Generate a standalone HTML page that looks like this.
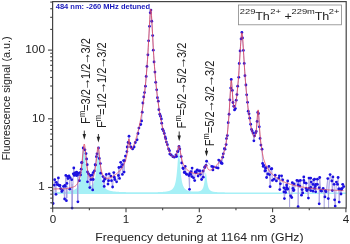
<!DOCTYPE html>
<html><head><meta charset="utf-8">
<style>
html,body{margin:0;padding:0;background:#fff;}
body{width:350px;height:244px;overflow:hidden;}
svg{display:block;font-family:"Liberation Sans",sans-serif;}
svg{will-change:transform;}
</style></head>
<body>
<svg width="350" height="244" viewBox="0 0 350 244">
<rect width="350" height="244" fill="#fff"/>
<!-- cyan isomer component -->
<path d="M52.7,194.1 L52.70,192.24 L52.90,192.24 L53.10,192.23 L53.30,192.23 L53.50,192.22 L53.70,192.22 L53.90,192.21 L54.10,192.21 L54.30,192.21 L54.50,192.20 L54.70,192.20 L54.90,192.19 L55.10,192.19 L55.30,192.18 L55.50,192.18 L55.70,192.17 L55.90,192.17 L56.10,192.16 L56.30,192.15 L56.50,192.15 L56.70,192.14 L56.90,192.14 L57.10,192.13 L57.30,192.12 L57.50,192.12 L57.70,192.11 L57.90,192.11 L58.10,192.10 L58.30,192.09 L58.50,192.09 L58.70,192.08 L58.90,192.07 L59.10,192.06 L59.30,192.06 L59.50,192.05 L59.70,192.04 L59.90,192.03 L60.10,192.02 L60.30,192.02 L60.50,192.01 L60.70,192.00 L60.90,191.99 L61.10,191.98 L61.30,191.97 L61.50,191.96 L61.70,191.95 L61.90,191.94 L62.10,191.93 L62.30,191.92 L62.50,191.91 L62.70,191.90 L62.90,191.88 L63.10,191.87 L63.30,191.86 L63.50,191.85 L63.70,191.83 L63.90,191.82 L64.10,191.81 L64.30,191.79 L64.50,191.78 L64.70,191.76 L64.90,191.75 L65.10,191.73 L65.30,191.71 L65.50,191.70 L65.70,191.68 L65.90,191.66 L66.10,191.64 L66.30,191.63 L66.50,191.61 L66.70,191.59 L66.90,191.57 L67.10,191.54 L67.30,191.52 L67.50,191.50 L67.70,191.47 L67.90,191.45 L68.10,191.42 L68.30,191.40 L68.50,191.37 L68.70,191.34 L68.90,191.31 L69.10,191.28 L69.30,191.25 L69.50,191.22 L69.70,191.19 L69.90,191.15 L70.10,191.11 L70.30,191.07 L70.50,191.04 L70.70,190.99 L70.90,190.95 L71.10,190.91 L71.30,190.86 L71.50,190.81 L71.70,190.76 L71.90,190.71 L72.10,190.65 L72.30,190.59 L72.50,190.53 L72.70,190.47 L72.90,190.40 L73.10,190.33 L73.30,190.25 L73.50,190.17 L73.70,190.09 L73.90,190.01 L74.10,189.91 L74.30,189.82 L74.50,189.71 L74.70,189.61 L74.90,189.49 L75.10,189.37 L75.30,189.24 L75.50,189.11 L75.70,188.96 L75.90,188.80 L76.10,188.64 L76.30,188.46 L76.50,188.27 L76.70,188.07 L76.90,187.86 L77.10,187.62 L77.30,187.37 L77.50,187.10 L77.70,186.81 L77.90,186.50 L78.10,186.15 L78.30,185.78 L78.50,185.38 L78.70,184.95 L78.90,184.47 L79.10,183.95 L79.30,183.37 L79.50,182.75 L79.70,182.06 L79.90,181.30 L80.10,180.47 L80.30,179.54 L80.50,178.52 L80.70,177.40 L80.90,176.15 L81.10,174.76 L81.30,173.23 L81.50,171.54 L81.70,169.68 L81.90,167.64 L82.10,165.43 L82.30,163.04 L82.50,160.52 L82.70,157.90 L82.90,155.27 L83.10,152.75 L83.30,150.50 L83.50,148.70 L83.70,147.52 L83.90,147.11 L84.10,147.51 L84.30,148.67 L84.50,150.46 L84.70,152.69 L84.90,155.19 L85.10,157.79 L85.30,160.38 L85.50,162.87 L85.70,165.22 L85.90,167.39 L86.10,169.39 L86.30,171.20 L86.50,172.83 L86.70,174.31 L86.90,175.63 L87.10,176.81 L87.30,177.87 L87.50,178.82 L87.70,179.67 L87.90,180.43 L88.10,181.10 L88.30,181.71 L88.50,182.24 L88.70,182.72 L88.90,183.15 L89.10,183.52 L89.30,183.85 L89.50,184.14 L89.70,184.39 L89.90,184.60 L90.10,184.78 L90.30,184.93 L90.50,185.05 L90.70,185.14 L90.90,185.20 L91.10,185.24 L91.30,185.25 L91.50,185.23 L91.70,185.18 L91.90,185.11 L92.10,185.00 L92.30,184.87 L92.50,184.70 L92.70,184.50 L92.90,184.26 L93.10,183.99 L93.30,183.67 L93.50,183.31 L93.70,182.89 L93.90,182.42 L94.10,181.89 L94.30,181.29 L94.50,180.61 L94.70,179.84 L94.90,178.99 L95.10,178.02 L95.30,176.94 L95.50,175.72 L95.70,174.36 L95.90,172.84 L96.10,171.16 L96.30,169.29 L96.50,167.24 L96.70,165.02 L96.90,162.66 L97.10,160.19 L97.30,157.69 L97.50,155.29 L97.70,153.14 L97.90,151.41 L98.10,150.29 L98.30,149.90 L98.50,150.30 L98.70,151.44 L98.90,153.19 L99.10,155.37 L99.30,157.79 L99.50,160.32 L99.70,162.82 L99.90,165.23 L100.10,167.49 L100.30,169.59 L100.50,171.51 L100.70,173.26 L100.90,174.84 L101.10,176.26 L101.30,177.55 L101.50,178.70 L101.70,179.75 L101.90,180.69 L102.10,181.53 L102.30,182.30 L102.50,182.99 L102.70,183.62 L102.90,184.19 L103.10,184.71 L103.30,185.19 L103.50,185.62 L103.70,186.02 L103.90,186.38 L104.10,186.72 L104.30,187.03 L104.50,187.31 L104.70,187.58 L104.90,187.82 L105.10,188.05 L105.30,188.26 L105.50,188.45 L105.70,188.64 L105.90,188.81 L106.10,188.96 L106.30,189.11 L106.50,189.25 L106.70,189.38 L106.90,189.51 L107.10,189.62 L107.30,189.73 L107.50,189.84 L107.70,189.93 L107.90,190.03 L108.10,190.11 L108.30,190.20 L108.50,190.27 L108.70,190.35 L108.90,190.42 L109.10,190.49 L109.30,190.55 L109.50,190.61 L109.70,190.67 L109.90,190.72 L110.10,190.78 L110.30,190.83 L110.50,190.87 L110.70,190.92 L110.90,190.97 L111.10,191.01 L111.30,191.05 L111.50,191.09 L111.70,191.12 L111.90,191.16 L112.10,191.19 L112.30,191.23 L112.50,191.26 L112.70,191.29 L112.90,191.32 L113.10,191.35 L113.30,191.38 L113.50,191.40 L113.70,191.43 L113.90,191.45 L114.10,191.48 L114.30,191.50 L114.50,191.52 L114.70,191.54 L114.90,191.56 L115.10,191.58 L115.30,191.60 L115.50,191.62 L115.70,191.64 L115.90,191.66 L116.10,191.67 L116.30,191.69 L116.50,191.71 L116.70,191.72 L116.90,191.74 L117.10,191.75 L117.30,191.77 L117.50,191.78 L117.70,191.79 L117.90,191.81 L118.10,191.82 L118.30,191.83 L118.50,191.84 L118.70,191.85 L118.90,191.87 L119.10,191.88 L119.30,191.89 L119.50,191.90 L119.70,191.91 L119.90,191.92 L120.10,191.93 L120.30,191.94 L120.50,191.95 L120.70,191.96 L120.90,191.96 L121.10,191.97 L121.30,191.98 L121.50,191.99 L121.70,192.00 L121.90,192.00 L122.10,192.01 L122.30,192.02 L122.50,192.03 L122.70,192.03 L122.90,192.04 L123.10,192.05 L123.30,192.05 L123.50,192.06 L123.70,192.07 L123.90,192.07 L124.10,192.08 L124.30,192.08 L124.50,192.09 L124.70,192.09 L124.90,192.10 L125.10,192.11 L125.30,192.11 L125.50,192.12 L125.70,192.12 L125.90,192.13 L126.10,192.13 L126.30,192.13 L126.50,192.14 L126.70,192.14 L126.90,192.15 L127.10,192.15 L127.30,192.16 L127.50,192.16 L127.70,192.16 L127.90,192.17 L128.10,192.17 L128.30,192.18 L128.50,192.18 L128.70,192.18 L128.90,192.19 L129.10,192.19 L129.30,192.19 L129.50,192.20 L129.70,192.20 L129.90,192.20 L130.10,192.20 L130.30,192.21 L130.50,192.21 L130.70,192.21 L130.90,192.22 L131.10,192.22 L131.30,192.22 L131.50,192.22 L131.70,192.23 L131.90,192.23 L132.10,192.23 L132.30,192.23 L132.50,192.24 L132.70,192.24 L132.90,192.24 L133.10,192.24 L133.30,192.24 L133.50,192.25 L133.70,192.25 L133.90,192.25 L134.10,192.25 L134.30,192.25 L134.50,192.26 L134.70,192.26 L134.90,192.26 L135.10,192.26 L135.30,192.26 L135.50,192.26 L135.70,192.27 L135.90,192.27 L136.10,192.27 L136.30,192.27 L136.50,192.27 L136.70,192.27 L136.90,192.27 L137.10,192.27 L137.30,192.28 L137.50,192.28 L137.70,192.28 L137.90,192.28 L138.10,192.28 L138.30,192.28 L138.50,192.28 L138.70,192.28 L138.90,192.28 L139.10,192.28 L139.30,192.28 L139.50,192.29 L139.70,192.29 L139.90,192.29 L140.10,192.29 L140.30,192.29 L140.50,192.29 L140.70,192.29 L140.90,192.29 L141.10,192.29 L141.30,192.29 L141.50,192.29 L141.70,192.29 L141.90,192.29 L142.10,192.29 L142.30,192.29 L142.50,192.29 L142.70,192.29 L142.90,192.29 L143.10,192.29 L143.30,192.29 L143.50,192.29 L143.70,192.29 L143.90,192.29 L144.10,192.29 L144.30,192.29 L144.50,192.29 L144.70,192.29 L144.90,192.29 L145.10,192.29 L145.30,192.29 L145.50,192.29 L145.70,192.29 L145.90,192.29 L146.10,192.29 L146.30,192.28 L146.50,192.28 L146.70,192.28 L146.90,192.28 L147.10,192.28 L147.30,192.28 L147.50,192.28 L147.70,192.28 L147.90,192.28 L148.10,192.28 L148.30,192.28 L148.50,192.27 L148.70,192.27 L148.90,192.27 L149.10,192.27 L149.30,192.27 L149.50,192.27 L149.70,192.27 L149.90,192.26 L150.10,192.26 L150.30,192.26 L150.50,192.26 L150.70,192.26 L150.90,192.25 L151.10,192.25 L151.30,192.25 L151.50,192.25 L151.70,192.25 L151.90,192.24 L152.10,192.24 L152.30,192.24 L152.50,192.24 L152.70,192.23 L152.90,192.23 L153.10,192.23 L153.30,192.22 L153.50,192.22 L153.70,192.22 L153.90,192.21 L154.10,192.21 L154.30,192.21 L154.50,192.20 L154.70,192.20 L154.90,192.20 L155.10,192.19 L155.30,192.19 L155.50,192.18 L155.70,192.18 L155.90,192.18 L156.10,192.17 L156.30,192.17 L156.50,192.16 L156.70,192.16 L156.90,192.15 L157.10,192.15 L157.30,192.14 L157.50,192.13 L157.70,192.13 L157.90,192.12 L158.10,192.12 L158.30,192.11 L158.50,192.10 L158.70,192.10 L158.90,192.09 L159.10,192.08 L159.30,192.07 L159.50,192.07 L159.70,192.06 L159.90,192.05 L160.10,192.04 L160.30,192.03 L160.50,192.02 L160.70,192.01 L160.90,192.00 L161.10,191.99 L161.30,191.98 L161.50,191.97 L161.70,191.96 L161.90,191.95 L162.10,191.93 L162.30,191.92 L162.50,191.91 L162.70,191.89 L162.90,191.88 L163.10,191.87 L163.30,191.85 L163.50,191.83 L163.70,191.82 L163.90,191.80 L164.10,191.78 L164.30,191.76 L164.50,191.74 L164.70,191.72 L164.90,191.70 L165.10,191.68 L165.30,191.66 L165.50,191.63 L165.70,191.61 L165.90,191.58 L166.10,191.55 L166.30,191.52 L166.50,191.49 L166.70,191.46 L166.90,191.42 L167.10,191.39 L167.30,191.35 L167.50,191.31 L167.70,191.27 L167.90,191.23 L168.10,191.18 L168.30,191.13 L168.50,191.08 L168.70,191.03 L168.90,190.97 L169.10,190.91 L169.30,190.85 L169.50,190.78 L169.70,190.71 L169.90,190.63 L170.10,190.55 L170.30,190.46 L170.50,190.37 L170.70,190.27 L170.90,190.16 L171.10,190.05 L171.30,189.93 L171.50,189.79 L171.70,189.65 L171.90,189.50 L172.10,189.33 L172.30,189.15 L172.50,188.96 L172.70,188.75 L172.90,188.52 L173.10,188.27 L173.30,187.99 L173.50,187.69 L173.70,187.36 L173.90,186.99 L174.10,186.59 L174.30,186.15 L174.50,185.65 L174.70,185.10 L174.90,184.49 L175.10,183.80 L175.30,183.04 L175.50,182.17 L175.70,181.20 L175.90,180.11 L176.10,178.87 L176.30,177.47 L176.50,175.89 L176.70,174.11 L176.90,172.10 L177.10,169.87 L177.30,167.40 L177.50,164.71 L177.70,161.86 L177.90,158.95 L178.10,156.13 L178.30,153.64 L178.50,151.74 L178.70,150.72 L178.90,150.72 L179.10,151.74 L179.30,153.63 L179.50,156.13 L179.70,158.94 L179.90,161.86 L180.10,164.71 L180.30,167.40 L180.50,169.86 L180.70,172.10 L180.90,174.10 L181.10,175.88 L181.30,177.46 L181.50,178.86 L181.70,180.09 L181.90,181.19 L182.10,182.16 L182.30,183.02 L182.50,183.79 L182.70,184.47 L182.90,185.08 L183.10,185.63 L183.30,186.12 L183.50,186.57 L183.70,186.97 L183.90,187.33 L184.10,187.66 L184.30,187.96 L184.50,188.23 L184.70,188.48 L184.90,188.71 L185.10,188.92 L185.30,189.11 L185.50,189.29 L185.70,189.45 L185.90,189.60 L186.10,189.74 L186.30,189.87 L186.50,189.99 L186.70,190.11 L186.90,190.21 L187.10,190.31 L187.30,190.40 L187.50,190.48 L187.70,190.56 L187.90,190.64 L188.10,190.70 L188.30,190.77 L188.50,190.83 L188.70,190.89 L188.90,190.94 L189.10,190.99 L189.30,191.04 L189.50,191.08 L189.70,191.13 L189.90,191.17 L190.10,191.20 L190.30,191.24 L190.50,191.27 L190.70,191.30 L190.90,191.33 L191.10,191.36 L191.30,191.38 L191.50,191.41 L191.70,191.43 L191.90,191.45 L192.10,191.47 L192.30,191.49 L192.50,191.50 L192.70,191.52 L192.90,191.53 L193.10,191.54 L193.30,191.56 L193.50,191.57 L193.70,191.58 L193.90,191.58 L194.10,191.59 L194.30,191.60 L194.50,191.60 L194.70,191.60 L194.90,191.61 L195.10,191.61 L195.30,191.61 L195.50,191.61 L195.70,191.60 L195.90,191.60 L196.10,191.59 L196.30,191.59 L196.50,191.58 L196.70,191.57 L196.90,191.55 L197.10,191.54 L197.30,191.52 L197.50,191.51 L197.70,191.48 L197.90,191.46 L198.10,191.44 L198.30,191.41 L198.50,191.38 L198.70,191.34 L198.90,191.30 L199.10,191.26 L199.30,191.21 L199.50,191.16 L199.70,191.10 L199.90,191.03 L200.10,190.96 L200.30,190.88 L200.50,190.79 L200.70,190.69 L200.90,190.58 L201.10,190.45 L201.30,190.31 L201.50,190.15 L201.70,189.97 L201.90,189.77 L202.10,189.54 L202.30,189.27 L202.50,188.96 L202.70,188.61 L202.90,188.20 L203.10,187.72 L203.30,187.16 L203.50,186.51 L203.70,185.75 L203.90,184.86 L204.10,183.81 L204.30,182.60 L204.50,181.20 L204.70,179.64 L204.90,177.95 L205.10,176.22 L205.30,174.62 L205.50,173.35 L205.70,172.65 L205.90,172.65 L206.10,173.36 L206.30,174.63 L206.50,176.24 L206.70,177.97 L206.90,179.66 L207.10,181.23 L207.30,182.63 L207.50,183.85 L207.70,184.91 L207.90,185.81 L208.10,186.58 L208.30,187.23 L208.50,187.80 L208.70,188.28 L208.90,188.70 L209.10,189.06 L209.30,189.37 L209.50,189.65 L209.70,189.89 L209.90,190.10 L210.10,190.29 L210.30,190.46 L210.50,190.61 L210.70,190.74 L210.90,190.86 L211.10,190.97 L211.30,191.07 L211.50,191.16 L211.70,191.24 L211.90,191.31 L212.10,191.38 L212.30,191.44 L212.50,191.50 L212.70,191.55 L212.90,191.60 L213.10,191.64 L213.30,191.68 L213.50,191.72 L213.70,191.76 L213.90,191.79 L214.10,191.82 L214.30,191.85 L214.50,191.88 L214.70,191.91 L214.90,191.93 L215.10,191.95 L215.30,191.97 L215.50,191.99 L215.70,192.01 L215.90,192.03 L216.10,192.05 L216.30,192.07 L216.50,192.08 L216.70,192.10 L216.90,192.11 L217.10,192.12 L217.30,192.14 L217.50,192.15 L217.70,192.16 L217.90,192.17 L218.10,192.18 L218.30,192.19 L218.50,192.20 L218.70,192.21 L218.90,192.22 L219.10,192.23 L219.30,192.23 L219.50,192.24 L219.70,192.25 L219.90,192.26 L220.10,192.26 L220.30,192.27 L220.50,192.28 L220.70,192.28 L220.90,192.29 L221.10,192.30 L221.30,192.30 L221.50,192.31 L221.70,192.31 L221.90,192.32 L222.10,192.32 L222.30,192.33 L222.50,192.33 L222.70,192.34 L222.90,192.34 L223.10,192.34 L223.30,192.35 L223.50,192.35 L223.70,192.36 L223.90,192.36 L224.10,192.36 L224.30,192.37 L224.50,192.37 L224.70,192.37 L224.90,192.38 L225.10,192.38 L225.30,192.38 L225.50,192.39 L225.70,192.39 L225.90,192.39 L226.10,192.40 L226.30,192.40 L226.50,192.40 L226.70,192.40 L226.90,192.41 L227.10,192.41 L227.30,192.41 L227.50,192.41 L227.70,192.42 L227.90,192.42 L228.10,192.42 L228.30,192.42 L228.50,192.42 L228.70,192.43 L228.90,192.43 L229.10,192.43 L229.30,192.43 L229.50,192.43 L229.70,192.44 L229.90,192.44 L230.10,192.44 L230.30,192.44 L230.50,192.44 L230.70,192.44 L230.90,192.45 L231.10,192.45 L231.30,192.45 L231.50,192.45 L231.70,192.45 L231.90,192.45 L232.10,192.45 L232.30,192.46 L232.50,192.46 L232.70,192.46 L232.90,192.46 L233.10,192.46 L233.30,192.46 L233.50,192.46 L233.70,192.47 L233.90,192.47 L234.10,192.47 L234.30,192.47 L234.50,192.47 L234.70,192.47 L234.90,192.47 L235.10,192.47 L235.30,192.47 L235.50,192.48 L235.70,192.48 L235.90,192.48 L236.10,192.48 L236.30,192.48 L236.50,192.48 L236.70,192.48 L236.90,192.48 L237.10,192.48 L237.30,192.48 L237.50,192.49 L237.70,192.49 L237.90,192.49 L238.10,192.49 L238.30,192.49 L238.50,192.49 L238.70,192.49 L238.90,192.49 L239.10,192.49 L239.30,192.49 L239.50,192.49 L239.70,192.50 L239.90,192.50 L240.10,192.50 L240.30,192.50 L240.50,192.50 L240.70,192.50 L240.90,192.50 L241.10,192.50 L241.30,192.50 L241.50,192.50 L241.70,192.50 L241.90,192.50 L242.10,192.50 L242.30,192.50 L242.50,192.51 L242.70,192.51 L242.90,192.51 L243.10,192.51 L243.30,192.51 L243.50,192.51 L243.70,192.51 L243.90,192.51 L244.10,192.51 L244.30,192.51 L244.50,192.51 L244.70,192.51 L244.90,192.51 L245.10,192.51 L245.30,192.51 L245.50,192.51 L245.70,192.51 L245.90,192.51 L246.10,192.52 L246.30,192.52 L246.50,192.52 L246.70,192.52 L246.90,192.52 L247.10,192.52 L247.30,192.52 L247.50,192.52 L247.70,192.52 L247.90,192.52 L248.10,192.52 L248.30,192.52 L248.50,192.52 L248.70,192.52 L248.90,192.52 L249.10,192.52 L249.30,192.52 L249.50,192.52 L249.70,192.52 L249.90,192.52 L250.10,192.52 L250.30,192.53 L250.50,192.53 L250.70,192.53 L250.90,192.53 L251.10,192.53 L251.30,192.53 L251.50,192.53 L251.70,192.53 L251.90,192.53 L252.10,192.53 L252.30,192.53 L252.50,192.53 L252.70,192.53 L252.90,192.53 L253.10,192.53 L253.30,192.53 L253.50,192.53 L253.70,192.53 L253.90,192.53 L254.10,192.53 L254.30,192.53 L254.50,192.53 L254.70,192.53 L254.90,192.53 L255.10,192.53 L255.30,192.53 L255.50,192.53 L255.70,192.54 L255.90,192.54 L256.10,192.54 L256.30,192.54 L256.50,192.54 L256.70,192.54 L256.90,192.54 L257.10,192.54 L257.30,192.54 L257.50,192.54 L257.70,192.54 L257.90,192.54 L258.10,192.54 L258.30,192.54 L258.50,192.54 L258.70,192.54 L258.90,192.54 L259.10,192.54 L259.30,192.54 L259.50,192.54 L259.70,192.54 L259.90,192.54 L260.10,192.54 L260.30,192.54 L260.50,192.54 L260.70,192.54 L260.90,192.54 L261.10,192.54 L261.30,192.54 L261.50,192.54 L261.70,192.54 L261.90,192.54 L262.10,192.54 L262.30,192.54 L262.50,192.54 L262.70,192.54 L262.90,192.54 L263.10,192.55 L263.30,192.55 L263.50,192.55 L263.70,192.55 L263.90,192.55 L264.10,192.55 L264.30,192.55 L264.50,192.55 L264.70,192.55 L264.90,192.55 L265.10,192.55 L265.30,192.55 L265.50,192.55 L265.70,192.55 L265.90,192.55 L266.10,192.55 L266.30,192.55 L266.50,192.55 L266.70,192.55 L266.90,192.55 L267.10,192.55 L267.30,192.55 L267.50,192.55 L267.70,192.55 L267.90,192.55 L268.10,192.55 L268.30,192.55 L268.50,192.55 L268.70,192.55 L268.90,192.55 L269.10,192.55 L269.30,192.55 L269.50,192.55 L269.70,192.55 L269.90,192.55 L270.10,192.55 L270.30,192.55 L270.50,192.55 L270.70,192.55 L270.90,192.55 L271.10,192.55 L271.30,192.55 L271.50,192.55 L271.70,192.55 L271.90,192.55 L272.10,192.55 L272.30,192.55 L272.50,192.55 L272.70,192.55 L272.90,192.55 L273.10,192.55 L273.30,192.56 L273.50,192.56 L273.70,192.56 L273.90,192.56 L274.10,192.56 L274.30,192.56 L274.50,192.56 L274.70,192.56 L274.90,192.56 L275.10,192.56 L275.30,192.56 L275.50,192.56 L275.70,192.56 L275.90,192.56 L276.10,192.56 L276.30,192.56 L276.50,192.56 L276.70,192.56 L276.90,192.56 L277.10,192.56 L277.30,192.56 L277.50,192.56 L277.70,192.56 L277.90,192.56 L278.10,192.56 L278.30,192.56 L278.50,192.56 L278.70,192.56 L278.90,192.56 L279.10,192.56 L279.30,192.56 L279.50,192.56 L279.70,192.56 L279.90,192.56 L280.10,192.56 L280.30,192.56 L280.50,192.56 L280.70,192.56 L280.90,192.56 L281.10,192.56 L281.30,192.56 L281.50,192.56 L281.70,192.56 L281.90,192.56 L282.10,192.56 L282.30,192.56 L282.50,192.56 L282.70,192.56 L282.90,192.56 L283.10,192.56 L283.30,192.56 L283.50,192.56 L283.70,192.56 L283.90,192.56 L284.10,192.56 L284.30,192.56 L284.50,192.56 L284.70,192.56 L284.90,192.56 L285.10,192.56 L285.30,192.56 L285.50,192.56 L285.70,192.56 L285.90,192.56 L286.10,192.56 L286.30,192.56 L286.50,192.56 L286.70,192.56 L286.90,192.56 L287.10,192.56 L287.30,192.56 L287.50,192.56 L287.70,192.56 L287.90,192.56 L288.10,192.56 L288.30,192.56 L288.50,192.56 L288.70,192.56 L288.90,192.56 L289.10,192.57 L289.30,192.57 L289.50,192.57 L289.70,192.57 L289.90,192.57 L290.10,192.57 L290.30,192.57 L290.50,192.57 L290.70,192.57 L290.90,192.57 L291.10,192.57 L291.30,192.57 L291.50,192.57 L291.70,192.57 L291.90,192.57 L292.10,192.57 L292.30,192.57 L292.50,192.57 L292.70,192.57 L292.90,192.57 L293.10,192.57 L293.30,192.57 L293.50,192.57 L293.70,192.57 L293.90,192.57 L294.10,192.57 L294.30,192.57 L294.50,192.57 L294.70,192.57 L294.90,192.57 L295.10,192.57 L295.30,192.57 L295.50,192.57 L295.70,192.57 L295.90,192.57 L296.10,192.57 L296.30,192.57 L296.50,192.57 L296.70,192.57 L296.90,192.57 L297.10,192.57 L297.30,192.57 L297.50,192.57 L297.70,192.57 L297.90,192.57 L298.10,192.57 L298.30,192.57 L298.50,192.57 L298.70,192.57 L298.90,192.57 L299.10,192.57 L299.30,192.57 L299.50,192.57 L299.70,192.57 L299.90,192.57 L300.10,192.57 L300.30,192.57 L300.50,192.57 L300.70,192.57 L300.90,192.57 L301.10,192.57 L301.30,192.57 L301.50,192.57 L301.70,192.57 L301.90,192.57 L302.10,192.57 L302.30,192.57 L302.50,192.57 L302.70,192.57 L302.90,192.57 L303.10,192.57 L303.30,192.57 L303.50,192.57 L303.70,192.57 L303.90,192.57 L304.10,192.57 L304.30,192.57 L304.50,192.57 L304.70,192.57 L304.90,192.57 L305.10,192.57 L305.30,192.57 L305.50,192.57 L305.70,192.57 L305.90,192.57 L306.10,192.57 L306.30,192.57 L306.50,192.57 L306.70,192.57 L306.90,192.57 L307.10,192.57 L307.30,192.57 L307.50,192.57 L307.70,192.57 L307.90,192.57 L308.10,192.57 L308.30,192.57 L308.50,192.57 L308.70,192.57 L308.90,192.57 L309.10,192.57 L309.30,192.57 L309.50,192.57 L309.70,192.57 L309.90,192.57 L310.10,192.57 L310.30,192.57 L310.50,192.57 L310.70,192.57 L310.90,192.57 L311.10,192.57 L311.30,192.57 L311.50,192.57 L311.70,192.57 L311.90,192.57 L312.10,192.57 L312.30,192.57 L312.50,192.57 L312.70,192.57 L312.90,192.57 L313.10,192.57 L313.30,192.57 L313.50,192.57 L313.70,192.57 L313.90,192.57 L314.10,192.57 L314.30,192.57 L314.50,192.57 L314.70,192.57 L314.90,192.57 L315.10,192.57 L315.30,192.57 L315.50,192.57 L315.70,192.57 L315.90,192.57 L316.10,192.57 L316.30,192.57 L316.50,192.57 L316.70,192.58 L316.90,192.58 L317.10,192.58 L317.30,192.58 L317.50,192.58 L317.70,192.58 L317.90,192.58 L318.10,192.58 L318.30,192.58 L318.50,192.58 L318.70,192.58 L318.90,192.58 L319.10,192.58 L319.30,192.58 L319.50,192.58 L319.70,192.58 L319.90,192.58 L320.10,192.58 L320.30,192.58 L320.50,192.58 L320.70,192.58 L320.90,192.58 L321.10,192.58 L321.30,192.58 L321.50,192.58 L321.70,192.58 L321.90,192.58 L322.10,192.58 L322.30,192.58 L322.50,192.58 L322.70,192.58 L322.90,192.58 L323.10,192.58 L323.30,192.58 L323.50,192.58 L323.70,192.58 L323.90,192.58 L324.10,192.58 L324.30,192.58 L324.50,192.58 L324.70,192.58 L324.90,192.58 L325.10,192.58 L325.30,192.58 L325.50,192.58 L325.70,192.58 L325.90,192.58 L326.10,192.58 L326.30,192.58 L326.50,192.58 L326.70,192.58 L326.90,192.58 L327.10,192.58 L327.30,192.58 L327.50,192.58 L327.70,192.58 L327.90,192.58 L328.10,192.58 L328.30,192.58 L328.50,192.58 L328.70,192.58 L328.90,192.58 L329.10,192.58 L329.30,192.58 L329.50,192.58 L329.70,192.58 L329.90,192.58 L330.10,192.58 L330.30,192.58 L330.50,192.58 L330.70,192.58 L330.90,192.58 L331.10,192.58 L331.30,192.58 L331.50,192.58 L331.70,192.58 L331.90,192.58 L332.10,192.58 L332.30,192.58 L332.50,192.58 L332.70,192.58 L332.90,192.58 L333.10,192.58 L333.30,192.58 L333.50,192.58 L333.70,192.58 L333.90,192.58 L334.10,192.58 L334.30,192.58 L334.50,192.58 L334.70,192.58 L334.90,192.58 L335.10,192.58 L335.30,192.58 L335.50,192.58 L335.70,192.58 L335.90,192.58 L336.10,192.58 L336.30,192.58 L336.50,192.58 L336.70,192.58 L336.90,192.58 L337.10,192.58 L337.30,192.58 L337.50,192.58 L337.70,192.58 L337.90,192.58 L338.10,192.58 L338.30,192.58 L338.50,192.58 L338.70,192.58 L338.90,192.58 L339.10,192.58 L339.30,192.58 L339.50,192.58 L339.70,192.58 L339.90,192.58 L340.10,192.58 L340.30,192.58 L340.50,192.58 L340.70,192.58 L340.90,192.58 L341.10,192.58 L341.30,192.58 L341.50,192.58 L341.70,192.58 L341.90,192.58 L342.10,192.58 L342.30,192.58 L342.50,192.58 L342.70,192.58 L342.90,192.58 L343.10,192.58 L343.30,192.58 L343.50,192.58 L343.70,192.58 L343.90,192.58 L344.10,192.58 L344.30,192.58 L344.50,192.58 L344.70,192.58 L344.90,192.58 L345.10,192.58 L345.30,192.58 L345.50,192.58 L345.70,192.58 L345.90,192.58 L346,194.1 Z" fill="#a6f0f6" stroke="none"/>
<!-- data connecting lines -->
<polyline points="53.10,203.50 54.30,185.10 54.70,179.70 56.00,194.30 56.30,182.30 57.20,184.60 58.40,177.90 58.40,185.00 59.50,185.70 60.00,185.50 60.60,188.60 61.80,191.50 62.30,190.30 63.50,186.30 64.60,199.00 64.80,185.50 65.20,186.30 65.80,175.40 66.40,200.70 66.90,183.40 67.40,176.50 68.00,178.60 69.00,176.00 69.80,189.20 70.10,177.60 71.70,179.70 72.10,208.10 73.30,173.80 73.80,168.00 74.30,175.40 74.90,172.80 75.90,174.90 76.50,172.20 76.60,175.50 77.10,172.60 77.50,174.90 77.90,201.80 78.10,173.30 79.40,180.70 80.00,172.60 80.60,174.90 81.20,169.20 81.60,162.70 82.00,162.40 83.20,148.00 84.90,149.80 86.00,153.60 86.60,159.00 87.20,164.70 87.50,172.00 87.50,181.80 88.60,173.80 89.80,187.60 90.40,175.50 91.00,179.50 92.10,174.90 92.70,189.90 93.20,172.60 93.20,179.50 94.40,170.90 95.20,164.70 95.50,165.10 96.40,156.70 97.00,153.80 98.50,148.00 99.30,158.40 100.40,163.60 100.70,173.20 103.00,176.60 103.60,181.20 104.20,186.40 104.70,178.90 105.10,179.00 106.30,174.40 108.00,184.10 108.60,180.70 109.20,173.80 110.90,176.10 111.50,180.70 112.60,187.00 113.80,172.60 114.30,177.20 114.90,179.50 116.60,181.80 118.40,175.50 118.90,167.50 119.50,178.40 120.70,162.30 121.20,166.90 122.40,164.60 122.40,174.40 123.60,160.60 124.10,172.10 124.70,160.60 125.40,156.10 126.90,151.60 127.20,147.00 128.10,142.50 129.00,136.20 129.90,143.40 130.80,147.00 132.60,148.90 134.10,147.00 135.30,142.50 137.10,139.80 138.00,133.50 138.90,128.10 140.70,124.50 141.60,120.90 142.23,112.20 142.89,103.01 143.76,96.91 144.53,92.56 145.45,86.15 146.21,76.47 146.96,66.46 147.89,54.78 148.59,40.81 149.52,26.34 150.25,12.74 150.92,10.04 151.75,21.23 152.66,35.62 153.30,50.15 154.06,61.97 154.94,72.05 155.70,82.33 156.67,89.86 157.43,97.75 158.29,101.22 158.86,109.68 159.80,114.24 160.54,116.16 161.38,118.95 161.70,123.20 162.60,129.20 163.50,130.90 164.30,133.50 165.20,136.90 165.70,138.70 166.40,142.10 167.40,144.70 168.60,149.00 169.50,150.70 169.80,154.10 171.20,155.00 172.90,156.70 174.30,157.20 176.00,155.00 176.60,156.60 177.70,151.40 177.80,151.60 179.00,146.40 179.80,149.00 181.20,156.60 181.70,162.90 182.90,168.10 183.20,168.60 184.30,172.60 184.60,172.10 185.20,166.40 186.30,173.90 186.60,174.30 188.90,175.50 189.50,189.30 189.80,173.30 190.60,174.30 190.90,171.60 191.80,176.60 192.10,168.10 193.50,177.80 194.70,180.60 195.20,172.00 196.10,172.70 197.00,170.30 197.30,169.80 198.10,176.00 199.30,170.90 200.10,171.00 200.40,174.30 201.60,179.50 203.10,171.00 203.30,177.20 204.70,167.50 204.90,167.00 206.00,165.30 206.60,161.20 211.80,166.40 212.90,169.90 213.50,167.00 216.40,167.60 218.10,168.10 218.70,160.10 220.40,161.20 221.00,163.00 222.10,163.50 222.70,157.20 223.30,153.80 224.40,148.60 225.00,149.20 226.10,144.60 226.46,138.60 227.32,135.57 228.21,122.70 229.08,114.24 229.84,99.97 230.69,88.08 231.26,79.48 232.35,90.46 232.96,102.49 233.80,106.26 234.52,109.90 235.42,108.60 236.24,100.20 236.94,94.57 237.68,86.22 238.74,77.33 239.27,63.52 240.09,50.92 241.09,38.95 241.88,32.46 242.52,37.93 243.40,50.38 244.23,63.44 244.96,75.70 245.89,85.00 246.65,94.84 247.54,102.36 248.21,111.26 249.04,113.86 249.74,118.14 250.67,124.27 251.51,129.44 252.22,131.08 253.02,133.06 253.89,140.85 254.60,135.83 255.51,132.94 256.24,131.42 257.11,121.45 257.77,112.50 258.49,113.55 259.30,126.79 260.06,138.45 260.90,145.10 262.00,149.20 262.60,163.50 263.20,166.40 263.70,165.30 264.90,171.00 265.50,168.10 265.50,170.60 266.00,167.70 266.60,177.50 267.80,174.00 268.90,166.40 269.50,174.60 270.10,186.70 271.20,168.90 271.80,168.70 272.40,180.40 274.10,179.20 275.20,175.20 276.40,180.90 278.70,178.10 279.30,175.80 279.80,189.60 280.40,183.80 281.60,175.80 282.70,179.80 283.90,187.80 283.90,191.90 284.40,198.60 285.60,189.60 285.60,192.40 286.60,185.00 286.70,187.30 287.10,188.90 287.70,181.00 287.70,189.00 290.60,195.80 291.70,197.50 292.30,182.70 292.90,188.40 293.50,190.60 294.00,183.80 294.00,190.10 296.90,180.40 298.10,185.00 298.10,206.70 298.60,181.00 299.80,186.10 300.40,180.40 301.50,195.20 302.10,189.60 302.70,192.90 303.80,176.90 303.80,180.40 304.40,182.70 306.10,183.20 306.10,188.40 306.70,190.60 307.30,190.10 308.40,198.10 309.00,178.10 309.00,188.40 310.70,178.10 310.70,187.30 310.70,190.60 311.30,182.10 313.00,184.40 313.00,191.20 313.60,179.80 314.60,179.20 314.70,188.40 315.30,186.10 315.70,184.30 315.70,191.80 317.40,179.20 317.40,184.30 319.20,187.80 319.20,203.80 319.70,177.50 320.90,190.70 321.50,191.20 323.20,188.40 324.90,196.90 325.50,190.70 326.00,191.70 327.80,178.60 328.30,198.60 330.10,174.60 331.80,180.90 332.30,190.60 332.90,176.90 334.10,184.30 334.60,199.80 335.20,206.10 336.40,182.10 337.50,184.30 338.10,177.50 338.70,188.90 339.20,202.10 339.80,188.90 341.00,194.00 341.50,189.50 342.10,188.30 342.70,184.30 343.80,186.60" fill="none" stroke="#aaa2e4" stroke-width="0.9"/>
<g stroke="#9c96dc" stroke-width="0.9"><line x1="289.6" y1="186" x2="289.6" y2="207"/><line x1="324.2" y1="190" x2="324.2" y2="209"/><line x1="328.6" y1="190" x2="328.6" y2="208"/><line x1="72.1" y1="184" x2="72.1" y2="208.1"/><line x1="67" y1="186" x2="67" y2="198"/><line x1="77.5" y1="184" x2="77.5" y2="200"/></g>
<!-- data dots -->
<g fill="#1c10e0"><circle cx="53.10" cy="203.50" r="1.4"/><circle cx="54.30" cy="185.10" r="1.4"/><circle cx="54.70" cy="179.70" r="1.4"/><circle cx="56.00" cy="194.30" r="1.4"/><circle cx="56.30" cy="182.30" r="1.4"/><circle cx="57.20" cy="184.60" r="1.4"/><circle cx="58.40" cy="177.90" r="1.4"/><circle cx="58.40" cy="185.00" r="1.4"/><circle cx="59.50" cy="185.70" r="1.4"/><circle cx="60.00" cy="185.50" r="1.4"/><circle cx="60.60" cy="188.60" r="1.4"/><circle cx="61.80" cy="191.50" r="1.4"/><circle cx="62.30" cy="190.30" r="1.4"/><circle cx="63.50" cy="186.30" r="1.4"/><circle cx="64.60" cy="199.00" r="1.4"/><circle cx="64.80" cy="185.50" r="1.4"/><circle cx="65.20" cy="186.30" r="1.4"/><circle cx="65.80" cy="175.40" r="1.4"/><circle cx="66.40" cy="200.70" r="1.4"/><circle cx="66.90" cy="183.40" r="1.4"/><circle cx="67.40" cy="176.50" r="1.4"/><circle cx="68.00" cy="178.60" r="1.4"/><circle cx="69.00" cy="176.00" r="1.4"/><circle cx="69.80" cy="189.20" r="1.4"/><circle cx="70.10" cy="177.60" r="1.4"/><circle cx="71.70" cy="179.70" r="1.4"/><circle cx="72.10" cy="208.10" r="1.4"/><circle cx="73.30" cy="173.80" r="1.4"/><circle cx="73.80" cy="168.00" r="1.4"/><circle cx="74.30" cy="175.40" r="1.4"/><circle cx="74.90" cy="172.80" r="1.4"/><circle cx="75.90" cy="174.90" r="1.4"/><circle cx="76.50" cy="172.20" r="1.4"/><circle cx="76.60" cy="175.50" r="1.4"/><circle cx="77.10" cy="172.60" r="1.4"/><circle cx="77.50" cy="174.90" r="1.4"/><circle cx="77.90" cy="201.80" r="1.4"/><circle cx="78.10" cy="173.30" r="1.4"/><circle cx="79.40" cy="180.70" r="1.4"/><circle cx="80.00" cy="172.60" r="1.4"/><circle cx="80.60" cy="174.90" r="1.4"/><circle cx="81.20" cy="169.20" r="1.4"/><circle cx="81.60" cy="162.70" r="1.4"/><circle cx="82.00" cy="162.40" r="1.4"/><circle cx="83.20" cy="148.00" r="1.4"/><circle cx="84.90" cy="149.80" r="1.4"/><circle cx="86.00" cy="153.60" r="1.4"/><circle cx="86.60" cy="159.00" r="1.4"/><circle cx="87.20" cy="164.70" r="1.4"/><circle cx="87.50" cy="172.00" r="1.4"/><circle cx="87.50" cy="181.80" r="1.4"/><circle cx="88.60" cy="173.80" r="1.4"/><circle cx="89.80" cy="187.60" r="1.4"/><circle cx="90.40" cy="175.50" r="1.4"/><circle cx="91.00" cy="179.50" r="1.4"/><circle cx="92.10" cy="174.90" r="1.4"/><circle cx="92.70" cy="189.90" r="1.4"/><circle cx="93.20" cy="172.60" r="1.4"/><circle cx="93.20" cy="179.50" r="1.4"/><circle cx="94.40" cy="170.90" r="1.4"/><circle cx="95.20" cy="164.70" r="1.4"/><circle cx="95.50" cy="165.10" r="1.4"/><circle cx="96.40" cy="156.70" r="1.4"/><circle cx="97.00" cy="153.80" r="1.4"/><circle cx="98.50" cy="148.00" r="1.4"/><circle cx="99.30" cy="158.40" r="1.4"/><circle cx="100.40" cy="163.60" r="1.4"/><circle cx="100.70" cy="173.20" r="1.4"/><circle cx="103.00" cy="176.60" r="1.4"/><circle cx="103.60" cy="181.20" r="1.4"/><circle cx="104.20" cy="186.40" r="1.4"/><circle cx="104.70" cy="178.90" r="1.4"/><circle cx="105.10" cy="179.00" r="1.4"/><circle cx="106.30" cy="174.40" r="1.4"/><circle cx="108.00" cy="184.10" r="1.4"/><circle cx="108.60" cy="180.70" r="1.4"/><circle cx="109.20" cy="173.80" r="1.4"/><circle cx="110.90" cy="176.10" r="1.4"/><circle cx="111.50" cy="180.70" r="1.4"/><circle cx="112.60" cy="187.00" r="1.4"/><circle cx="113.80" cy="172.60" r="1.4"/><circle cx="114.30" cy="177.20" r="1.4"/><circle cx="114.90" cy="179.50" r="1.4"/><circle cx="116.60" cy="181.80" r="1.4"/><circle cx="118.40" cy="175.50" r="1.4"/><circle cx="118.90" cy="167.50" r="1.4"/><circle cx="119.50" cy="178.40" r="1.4"/><circle cx="120.70" cy="162.30" r="1.4"/><circle cx="121.20" cy="166.90" r="1.4"/><circle cx="122.40" cy="164.60" r="1.4"/><circle cx="122.40" cy="174.40" r="1.4"/><circle cx="123.60" cy="160.60" r="1.4"/><circle cx="124.10" cy="172.10" r="1.4"/><circle cx="124.70" cy="160.60" r="1.4"/><circle cx="125.40" cy="156.10" r="1.4"/><circle cx="126.90" cy="151.60" r="1.4"/><circle cx="127.20" cy="147.00" r="1.4"/><circle cx="128.10" cy="142.50" r="1.4"/><circle cx="129.00" cy="136.20" r="1.4"/><circle cx="129.90" cy="143.40" r="1.4"/><circle cx="130.80" cy="147.00" r="1.4"/><circle cx="132.60" cy="148.90" r="1.4"/><circle cx="134.10" cy="147.00" r="1.4"/><circle cx="135.30" cy="142.50" r="1.4"/><circle cx="137.10" cy="139.80" r="1.4"/><circle cx="138.00" cy="133.50" r="1.4"/><circle cx="138.90" cy="128.10" r="1.4"/><circle cx="140.70" cy="124.50" r="1.4"/><circle cx="141.60" cy="120.90" r="1.4"/><circle cx="142.23" cy="112.20" r="1.4"/><circle cx="142.89" cy="103.01" r="1.4"/><circle cx="143.76" cy="96.91" r="1.4"/><circle cx="144.53" cy="92.56" r="1.4"/><circle cx="145.45" cy="86.15" r="1.4"/><circle cx="146.21" cy="76.47" r="1.4"/><circle cx="146.96" cy="66.46" r="1.4"/><circle cx="147.89" cy="54.78" r="1.4"/><circle cx="148.59" cy="40.81" r="1.4"/><circle cx="149.52" cy="26.34" r="1.4"/><circle cx="150.25" cy="12.74" r="1.4"/><circle cx="150.92" cy="10.04" r="1.4"/><circle cx="151.75" cy="21.23" r="1.4"/><circle cx="152.66" cy="35.62" r="1.4"/><circle cx="153.30" cy="50.15" r="1.4"/><circle cx="154.06" cy="61.97" r="1.4"/><circle cx="154.94" cy="72.05" r="1.4"/><circle cx="155.70" cy="82.33" r="1.4"/><circle cx="156.67" cy="89.86" r="1.4"/><circle cx="157.43" cy="97.75" r="1.4"/><circle cx="158.29" cy="101.22" r="1.4"/><circle cx="158.86" cy="109.68" r="1.4"/><circle cx="159.80" cy="114.24" r="1.4"/><circle cx="160.54" cy="116.16" r="1.4"/><circle cx="161.38" cy="118.95" r="1.4"/><circle cx="161.70" cy="123.20" r="1.4"/><circle cx="162.60" cy="129.20" r="1.4"/><circle cx="163.50" cy="130.90" r="1.4"/><circle cx="164.30" cy="133.50" r="1.4"/><circle cx="165.20" cy="136.90" r="1.4"/><circle cx="165.70" cy="138.70" r="1.4"/><circle cx="166.40" cy="142.10" r="1.4"/><circle cx="167.40" cy="144.70" r="1.4"/><circle cx="168.60" cy="149.00" r="1.4"/><circle cx="169.50" cy="150.70" r="1.4"/><circle cx="169.80" cy="154.10" r="1.4"/><circle cx="171.20" cy="155.00" r="1.4"/><circle cx="172.90" cy="156.70" r="1.4"/><circle cx="174.30" cy="157.20" r="1.4"/><circle cx="176.00" cy="155.00" r="1.4"/><circle cx="176.60" cy="156.60" r="1.4"/><circle cx="177.70" cy="151.40" r="1.4"/><circle cx="177.80" cy="151.60" r="1.4"/><circle cx="179.00" cy="146.40" r="1.4"/><circle cx="179.80" cy="149.00" r="1.4"/><circle cx="181.20" cy="156.60" r="1.4"/><circle cx="181.70" cy="162.90" r="1.4"/><circle cx="182.90" cy="168.10" r="1.4"/><circle cx="183.20" cy="168.60" r="1.4"/><circle cx="184.30" cy="172.60" r="1.4"/><circle cx="184.60" cy="172.10" r="1.4"/><circle cx="185.20" cy="166.40" r="1.4"/><circle cx="186.30" cy="173.90" r="1.4"/><circle cx="186.60" cy="174.30" r="1.4"/><circle cx="188.90" cy="175.50" r="1.4"/><circle cx="189.50" cy="189.30" r="1.4"/><circle cx="189.80" cy="173.30" r="1.4"/><circle cx="190.60" cy="174.30" r="1.4"/><circle cx="190.90" cy="171.60" r="1.4"/><circle cx="191.80" cy="176.60" r="1.4"/><circle cx="192.10" cy="168.10" r="1.4"/><circle cx="193.50" cy="177.80" r="1.4"/><circle cx="194.70" cy="180.60" r="1.4"/><circle cx="195.20" cy="172.00" r="1.4"/><circle cx="196.10" cy="172.70" r="1.4"/><circle cx="197.00" cy="170.30" r="1.4"/><circle cx="197.30" cy="169.80" r="1.4"/><circle cx="198.10" cy="176.00" r="1.4"/><circle cx="199.30" cy="170.90" r="1.4"/><circle cx="200.10" cy="171.00" r="1.4"/><circle cx="200.40" cy="174.30" r="1.4"/><circle cx="201.60" cy="179.50" r="1.4"/><circle cx="203.10" cy="171.00" r="1.4"/><circle cx="203.30" cy="177.20" r="1.4"/><circle cx="204.70" cy="167.50" r="1.4"/><circle cx="204.90" cy="167.00" r="1.4"/><circle cx="206.00" cy="165.30" r="1.4"/><circle cx="206.60" cy="161.20" r="1.4"/><circle cx="211.80" cy="166.40" r="1.4"/><circle cx="212.90" cy="169.90" r="1.4"/><circle cx="213.50" cy="167.00" r="1.4"/><circle cx="216.40" cy="167.60" r="1.4"/><circle cx="218.10" cy="168.10" r="1.4"/><circle cx="218.70" cy="160.10" r="1.4"/><circle cx="220.40" cy="161.20" r="1.4"/><circle cx="221.00" cy="163.00" r="1.4"/><circle cx="222.10" cy="163.50" r="1.4"/><circle cx="222.70" cy="157.20" r="1.4"/><circle cx="223.30" cy="153.80" r="1.4"/><circle cx="224.40" cy="148.60" r="1.4"/><circle cx="225.00" cy="149.20" r="1.4"/><circle cx="226.10" cy="144.60" r="1.4"/><circle cx="226.46" cy="138.60" r="1.4"/><circle cx="227.32" cy="135.57" r="1.4"/><circle cx="228.21" cy="122.70" r="1.4"/><circle cx="229.08" cy="114.24" r="1.4"/><circle cx="229.84" cy="99.97" r="1.4"/><circle cx="230.69" cy="88.08" r="1.4"/><circle cx="231.26" cy="79.48" r="1.4"/><circle cx="232.35" cy="90.46" r="1.4"/><circle cx="232.96" cy="102.49" r="1.4"/><circle cx="233.80" cy="106.26" r="1.4"/><circle cx="234.52" cy="109.90" r="1.4"/><circle cx="235.42" cy="108.60" r="1.4"/><circle cx="236.24" cy="100.20" r="1.4"/><circle cx="236.94" cy="94.57" r="1.4"/><circle cx="237.68" cy="86.22" r="1.4"/><circle cx="238.74" cy="77.33" r="1.4"/><circle cx="239.27" cy="63.52" r="1.4"/><circle cx="240.09" cy="50.92" r="1.4"/><circle cx="241.09" cy="38.95" r="1.4"/><circle cx="241.88" cy="32.46" r="1.4"/><circle cx="242.52" cy="37.93" r="1.4"/><circle cx="243.40" cy="50.38" r="1.4"/><circle cx="244.23" cy="63.44" r="1.4"/><circle cx="244.96" cy="75.70" r="1.4"/><circle cx="245.89" cy="85.00" r="1.4"/><circle cx="246.65" cy="94.84" r="1.4"/><circle cx="247.54" cy="102.36" r="1.4"/><circle cx="248.21" cy="111.26" r="1.4"/><circle cx="249.04" cy="113.86" r="1.4"/><circle cx="249.74" cy="118.14" r="1.4"/><circle cx="250.67" cy="124.27" r="1.4"/><circle cx="251.51" cy="129.44" r="1.4"/><circle cx="252.22" cy="131.08" r="1.4"/><circle cx="253.02" cy="133.06" r="1.4"/><circle cx="253.89" cy="140.85" r="1.4"/><circle cx="254.60" cy="135.83" r="1.4"/><circle cx="255.51" cy="132.94" r="1.4"/><circle cx="256.24" cy="131.42" r="1.4"/><circle cx="257.11" cy="121.45" r="1.4"/><circle cx="257.77" cy="112.50" r="1.4"/><circle cx="258.49" cy="113.55" r="1.4"/><circle cx="259.30" cy="126.79" r="1.4"/><circle cx="260.06" cy="138.45" r="1.4"/><circle cx="260.90" cy="145.10" r="1.4"/><circle cx="262.00" cy="149.20" r="1.4"/><circle cx="262.60" cy="163.50" r="1.4"/><circle cx="263.20" cy="166.40" r="1.4"/><circle cx="263.70" cy="165.30" r="1.4"/><circle cx="264.90" cy="171.00" r="1.4"/><circle cx="265.50" cy="168.10" r="1.4"/><circle cx="265.50" cy="170.60" r="1.4"/><circle cx="266.00" cy="167.70" r="1.4"/><circle cx="266.60" cy="177.50" r="1.4"/><circle cx="267.80" cy="174.00" r="1.4"/><circle cx="268.90" cy="166.40" r="1.4"/><circle cx="269.50" cy="174.60" r="1.4"/><circle cx="270.10" cy="186.70" r="1.4"/><circle cx="271.20" cy="168.90" r="1.4"/><circle cx="271.80" cy="168.70" r="1.4"/><circle cx="272.40" cy="180.40" r="1.4"/><circle cx="274.10" cy="179.20" r="1.4"/><circle cx="275.20" cy="175.20" r="1.4"/><circle cx="276.40" cy="180.90" r="1.4"/><circle cx="278.70" cy="178.10" r="1.4"/><circle cx="279.30" cy="175.80" r="1.4"/><circle cx="279.80" cy="189.60" r="1.4"/><circle cx="280.40" cy="183.80" r="1.4"/><circle cx="281.60" cy="175.80" r="1.4"/><circle cx="282.70" cy="179.80" r="1.4"/><circle cx="283.90" cy="187.80" r="1.4"/><circle cx="283.90" cy="191.90" r="1.4"/><circle cx="284.40" cy="198.60" r="1.4"/><circle cx="285.60" cy="189.60" r="1.4"/><circle cx="285.60" cy="192.40" r="1.4"/><circle cx="286.60" cy="185.00" r="1.4"/><circle cx="286.70" cy="187.30" r="1.4"/><circle cx="287.10" cy="188.90" r="1.4"/><circle cx="287.70" cy="181.00" r="1.4"/><circle cx="287.70" cy="189.00" r="1.4"/><circle cx="290.60" cy="195.80" r="1.4"/><circle cx="291.70" cy="197.50" r="1.4"/><circle cx="292.30" cy="182.70" r="1.4"/><circle cx="292.90" cy="188.40" r="1.4"/><circle cx="293.50" cy="190.60" r="1.4"/><circle cx="294.00" cy="183.80" r="1.4"/><circle cx="294.00" cy="190.10" r="1.4"/><circle cx="296.90" cy="180.40" r="1.4"/><circle cx="298.10" cy="185.00" r="1.4"/><circle cx="298.10" cy="206.70" r="1.4"/><circle cx="298.60" cy="181.00" r="1.4"/><circle cx="299.80" cy="186.10" r="1.4"/><circle cx="300.40" cy="180.40" r="1.4"/><circle cx="301.50" cy="195.20" r="1.4"/><circle cx="302.10" cy="189.60" r="1.4"/><circle cx="302.70" cy="192.90" r="1.4"/><circle cx="303.80" cy="176.90" r="1.4"/><circle cx="303.80" cy="180.40" r="1.4"/><circle cx="304.40" cy="182.70" r="1.4"/><circle cx="306.10" cy="183.20" r="1.4"/><circle cx="306.10" cy="188.40" r="1.4"/><circle cx="306.70" cy="190.60" r="1.4"/><circle cx="307.30" cy="190.10" r="1.4"/><circle cx="308.40" cy="198.10" r="1.4"/><circle cx="309.00" cy="178.10" r="1.4"/><circle cx="309.00" cy="188.40" r="1.4"/><circle cx="310.70" cy="178.10" r="1.4"/><circle cx="310.70" cy="187.30" r="1.4"/><circle cx="310.70" cy="190.60" r="1.4"/><circle cx="311.30" cy="182.10" r="1.4"/><circle cx="313.00" cy="184.40" r="1.4"/><circle cx="313.00" cy="191.20" r="1.4"/><circle cx="313.60" cy="179.80" r="1.4"/><circle cx="314.60" cy="179.20" r="1.4"/><circle cx="314.70" cy="188.40" r="1.4"/><circle cx="315.30" cy="186.10" r="1.4"/><circle cx="315.70" cy="184.30" r="1.4"/><circle cx="315.70" cy="191.80" r="1.4"/><circle cx="317.40" cy="179.20" r="1.4"/><circle cx="317.40" cy="184.30" r="1.4"/><circle cx="319.20" cy="187.80" r="1.4"/><circle cx="319.20" cy="203.80" r="1.4"/><circle cx="319.70" cy="177.50" r="1.4"/><circle cx="320.90" cy="190.70" r="1.4"/><circle cx="321.50" cy="191.20" r="1.4"/><circle cx="323.20" cy="188.40" r="1.4"/><circle cx="324.90" cy="196.90" r="1.4"/><circle cx="325.50" cy="190.70" r="1.4"/><circle cx="326.00" cy="191.70" r="1.4"/><circle cx="327.80" cy="178.60" r="1.4"/><circle cx="328.30" cy="198.60" r="1.4"/><circle cx="330.10" cy="174.60" r="1.4"/><circle cx="331.80" cy="180.90" r="1.4"/><circle cx="332.30" cy="190.60" r="1.4"/><circle cx="332.90" cy="176.90" r="1.4"/><circle cx="334.10" cy="184.30" r="1.4"/><circle cx="334.60" cy="199.80" r="1.4"/><circle cx="335.20" cy="206.10" r="1.4"/><circle cx="336.40" cy="182.10" r="1.4"/><circle cx="337.50" cy="184.30" r="1.4"/><circle cx="338.10" cy="177.50" r="1.4"/><circle cx="338.70" cy="188.90" r="1.4"/><circle cx="339.20" cy="202.10" r="1.4"/><circle cx="339.80" cy="188.90" r="1.4"/><circle cx="341.00" cy="194.00" r="1.4"/><circle cx="341.50" cy="189.50" r="1.4"/><circle cx="342.10" cy="188.30" r="1.4"/><circle cx="342.70" cy="184.30" r="1.4"/><circle cx="343.80" cy="186.60" r="1.4"/></g>
<!-- fit curve -->
<polyline points="53.50,188.95 53.75,188.94 54.00,188.94 54.25,188.94 54.50,188.93 54.75,188.93 55.00,188.93 55.25,188.92 55.50,188.92 55.75,188.91 56.00,188.90 56.25,188.90 56.50,188.89 56.75,188.89 57.00,188.88 57.25,188.87 57.50,188.86 57.75,188.86 58.00,188.85 58.25,188.84 58.50,188.83 58.75,188.82 59.00,188.81 59.25,188.80 59.50,188.78 59.75,188.77 60.00,188.76 60.25,188.76 60.50,188.77 60.75,188.77 61.00,188.77 61.25,188.77 61.50,188.77 61.75,188.77 62.00,188.77 62.25,188.77 62.50,188.77 62.75,188.77 63.00,188.76 63.25,188.76 63.50,188.75 63.75,188.75 64.00,188.74 64.25,188.73 64.50,188.72 64.75,188.72 65.00,188.70 65.25,188.69 65.50,188.68 65.75,188.67 66.00,188.65 66.25,188.60 66.50,188.56 66.75,188.51 67.00,188.46 67.25,188.41 67.50,188.35 67.75,188.30 68.00,188.24 68.25,188.18 68.50,188.12 68.75,188.06 69.00,188.00 69.25,187.93 69.50,187.86 69.75,187.79 70.00,187.72 70.25,187.68 70.50,187.65 70.75,187.61 71.00,187.57 71.25,187.53 71.50,187.48 71.75,187.43 72.00,187.37 72.25,187.31 72.50,187.24 72.75,187.17 73.00,187.09 73.25,187.00 73.50,186.91 73.75,186.81 74.00,186.71 74.25,186.59 74.50,186.47 74.75,186.33 75.00,186.18 75.25,186.03 75.50,185.85 75.75,185.67 76.00,185.47 76.25,185.18 76.50,184.87 76.75,184.53 77.00,184.18 77.25,183.80 77.50,183.39 77.75,182.94 78.00,182.46 78.25,181.94 78.50,181.38 78.75,180.76 79.00,180.09 79.25,179.35 79.50,178.53 79.75,177.63 80.00,176.64 80.25,175.57 80.50,174.37 80.75,173.04 81.00,171.56 81.25,169.92 81.50,168.09 81.75,166.07 82.00,163.84 82.25,161.41 82.50,158.80 82.75,156.05 83.00,153.23 83.25,150.48 83.50,147.97 83.75,145.91 84.00,144.54 84.25,144.02 84.50,144.44 84.75,145.73 85.00,147.71 85.25,150.15 85.50,152.83 85.75,155.56 86.00,158.23 86.25,160.75 86.50,163.06 86.75,165.17 87.00,167.05 87.25,168.73 87.50,170.21 87.75,171.51 88.00,172.65 88.25,173.65 88.50,174.52 88.75,175.27 89.00,175.91 89.25,176.46 89.50,176.92 89.75,177.31 90.00,177.63 90.25,177.88 90.50,178.06 90.75,178.19 91.00,178.27 91.25,178.27 91.50,178.23 91.75,178.13 92.00,177.97 92.25,177.76 92.50,177.49 92.75,177.16 93.00,176.76 93.25,176.28 93.50,175.73 93.75,175.09 94.00,174.36 94.25,173.51 94.50,172.54 94.75,171.44 95.00,170.18 95.25,168.75 95.50,167.13 95.75,165.32 96.00,163.30 96.25,161.07 96.50,158.67 96.75,156.16 97.00,153.62 97.25,151.22 97.50,149.16 97.75,147.67 98.00,146.94 98.25,147.08 98.50,148.07 98.75,149.75 99.00,151.92 99.25,154.35 99.50,156.84 99.75,159.27 100.00,161.55 100.25,163.64 100.50,165.52 100.75,167.20 101.00,168.68 101.25,169.99 101.50,171.13 101.75,172.13 102.00,173.00 102.25,173.77 102.50,174.43 102.75,175.01 103.00,175.51 103.25,175.95 103.50,176.33 103.75,176.66 104.00,176.94 104.25,177.19 104.50,177.40 104.75,177.58 105.00,177.73 105.25,177.87 105.50,177.99 105.75,178.08 106.00,178.16 106.25,178.23 106.50,178.27 106.75,178.31 107.00,178.33 107.25,178.34 107.50,178.33 107.75,178.32 108.00,178.30 108.25,178.27 108.50,178.23 108.75,178.18 109.00,178.13 109.25,178.07 109.50,178.00 109.75,177.93 110.00,177.85 110.25,177.75 110.50,177.64 110.75,177.53 111.00,177.41 111.25,177.29 111.50,177.16 111.75,177.03 112.00,176.90 112.25,176.76 112.50,176.62 112.75,176.47 113.00,176.31 113.25,176.16 113.50,176.00 113.75,175.83 114.00,175.66 114.25,175.49 114.50,175.31 114.75,175.13 115.00,174.94 115.25,174.77 115.50,174.59 115.75,174.40 116.00,174.21 116.25,174.02 116.50,173.82 116.75,173.62 117.00,173.41 117.25,173.20 117.50,172.99 117.75,172.77 118.00,172.54 118.25,172.31 118.50,172.08 118.75,171.84 119.00,171.59 119.25,171.34 119.50,171.09 119.75,170.83 120.00,170.56 120.25,170.29 120.50,170.01 120.75,169.72 121.00,169.43 121.25,169.04 121.50,168.64 121.75,168.24 122.00,167.83 122.25,167.41 122.50,166.97 122.75,166.53 123.00,166.07 123.25,165.60 123.50,165.12 123.75,164.62 124.00,164.10 124.25,163.56 124.50,162.99 124.75,162.39 125.00,161.76 125.25,161.08 125.50,160.36 125.75,159.57 126.00,158.70 126.25,157.82 126.50,156.82 126.75,155.65 127.00,154.27 127.25,152.63 127.50,150.65 127.75,148.28 128.00,145.57 128.25,142.73 128.50,140.31 128.75,139.07 129.00,139.45 129.25,141.08 129.50,143.19 129.75,145.15 130.00,146.71 130.25,147.82 130.50,148.56 130.75,148.99 131.00,149.19 131.25,149.22 131.50,149.10 131.75,148.89 132.00,148.59 132.25,148.22 132.50,147.80 132.75,147.34 133.00,146.83 133.25,146.29 133.50,145.72 133.75,145.12 134.00,144.49 134.25,143.84 134.50,143.17 134.75,142.48 135.00,141.76 135.25,141.02 135.50,140.26 135.75,139.48 136.00,138.68 136.25,137.86 136.50,137.02 136.75,136.15 137.00,135.27 137.25,134.36 137.50,133.43 137.75,132.47 138.00,131.49 138.25,130.48 138.50,129.45 138.75,128.39 139.00,127.31 139.25,126.19 139.50,125.05 139.75,123.87 140.00,122.67 140.25,121.43 140.50,120.15 140.75,118.84 141.00,117.49 141.25,116.11 141.50,114.68 141.75,113.21 142.00,111.69 142.25,110.13 142.50,108.51 142.75,106.85 143.00,105.13 143.25,103.35 143.50,101.51 143.75,99.60 144.00,97.63 144.25,95.58 144.50,93.45 144.75,91.24 145.00,88.95 145.25,86.56 145.50,84.06 145.75,81.46 146.00,78.75 146.25,75.91 146.50,72.93 146.75,69.82 147.00,66.55 147.25,63.11 147.50,59.50 147.75,55.70 148.00,51.71 148.25,47.52 148.50,43.13 148.75,38.55 149.00,33.83 149.25,29.01 149.50,24.22 149.75,19.62 150.00,15.47 150.25,12.09 150.50,9.86 150.75,9.06 151.00,9.81 151.25,12.01 151.50,15.35 151.75,19.49 152.00,24.08 152.25,28.87 152.50,33.68 152.75,38.41 153.00,42.99 153.25,47.39 153.50,51.58 153.75,55.58 154.00,59.38 154.25,63.00 154.50,66.44 154.75,69.71 155.00,72.83 155.25,75.81 155.50,78.65 155.75,81.37 156.00,83.97 156.25,86.46 156.50,88.85 156.75,91.15 157.00,93.36 157.25,95.48 157.50,97.53 157.75,99.50 158.00,101.40 158.25,103.24 158.50,105.02 158.75,106.74 159.00,108.40 159.25,110.01 159.50,111.57 159.75,113.08 160.00,114.54 160.25,115.97 160.50,117.35 160.75,118.69 161.00,119.99 161.25,121.26 161.50,122.50 161.75,123.69 162.00,124.86 162.25,126.00 162.50,127.10 162.75,128.18 163.00,129.23 163.25,130.26 163.50,131.25 163.75,132.23 164.00,133.17 164.25,134.25 164.50,135.30 164.75,136.34 165.00,137.35 165.25,138.33 165.50,139.30 165.75,140.25 166.00,141.18 166.25,142.09 166.50,142.98 166.75,143.86 167.00,144.72 167.25,145.56 167.50,146.38 167.75,147.18 168.00,147.91 168.25,148.61 168.50,149.30 168.75,149.97 169.00,150.62 169.25,151.25 169.50,151.87 169.75,152.48 170.00,153.07 170.25,153.64 170.50,154.19 170.75,154.70 171.00,155.03 171.25,155.35 171.50,155.65 171.75,155.93 172.00,156.20 172.25,156.44 172.50,156.66 172.75,156.85 173.00,157.03 173.25,157.06 173.50,157.06 173.75,157.03 174.00,156.96 174.25,156.86 174.50,156.70 174.75,156.50 175.00,156.24 175.25,155.91 175.50,155.51 175.75,155.24 176.00,154.88 176.25,154.41 176.50,153.83 176.75,153.12 177.00,152.28 177.25,151.32 177.50,150.26 177.75,149.13 178.00,148.01 178.25,146.99 178.50,146.18 178.75,145.71 179.00,145.65 179.25,146.04 179.50,146.86 179.75,148.03 180.00,149.42 180.25,150.93 180.50,152.48 180.75,153.99 181.00,155.42 181.25,156.76 181.50,157.99 181.75,159.11 182.00,160.13 182.25,161.05 182.50,161.89 182.75,162.66 183.00,163.35 183.25,163.99 183.50,164.57 183.75,165.11 184.00,165.61 184.25,166.07 184.50,166.50 184.75,166.90 185.00,167.27 185.25,167.62 185.50,167.95 185.75,168.26 186.00,168.55 186.25,168.83 186.50,169.10 186.75,169.35 187.00,169.58 187.25,169.81 187.50,170.03 187.75,170.23 188.00,170.43 188.25,170.62 188.50,170.80 188.75,170.98 189.00,171.14 189.25,171.30 189.50,171.45 189.75,171.60 190.00,171.74 190.25,171.88 190.50,172.01 190.75,172.13 191.00,172.25 191.25,172.36 191.50,172.47 191.75,172.57 192.00,172.67 192.25,172.77 192.50,172.86 192.75,172.95 193.00,173.03 193.25,173.11 193.50,173.18 193.75,173.25 194.00,173.31 194.25,173.38 194.50,173.43 194.75,173.49 195.00,173.53 195.25,173.58 195.50,173.62 195.75,173.66 196.00,173.69 196.25,173.72 196.50,173.74 196.75,173.76 197.00,173.78 197.25,173.79 197.50,173.79 197.75,173.79 198.00,173.79 198.25,173.78 198.50,173.77 198.75,173.75 199.00,173.72 199.25,173.68 199.50,173.64 199.75,173.59 200.00,173.54 200.25,173.47 200.50,173.39 200.75,173.30 201.00,173.20 201.25,173.08 201.50,172.95 201.75,172.79 202.00,172.62 202.25,172.41 202.50,172.18 202.75,171.91 203.00,171.59 203.25,171.22 203.50,170.80 203.75,170.30 204.00,169.73 204.25,169.06 204.50,168.32 204.75,167.51 205.00,166.67 205.25,165.88 205.50,165.23 205.75,164.82 206.00,164.73 206.25,164.96 206.50,165.44 206.75,166.08 207.00,166.77 207.25,167.44 207.50,168.04 207.75,168.55 208.00,168.97 208.25,169.31 208.50,169.58 208.75,169.78 209.00,169.93 209.25,170.03 209.50,170.09 209.75,170.12 210.00,170.12 210.25,170.10 210.50,170.05 210.75,169.99 211.00,169.91 211.25,169.81 211.50,169.70 211.75,169.58 212.00,169.44 212.25,169.29 212.50,169.14 212.75,168.97 213.00,168.79 213.25,168.60 213.50,168.41 213.75,168.20 214.00,167.99 214.25,167.77 214.50,167.54 214.75,167.30 215.00,167.05 215.25,166.79 215.50,166.52 215.75,166.25 216.00,165.96 216.25,165.66 216.50,165.36 216.75,165.05 217.00,164.72 217.25,164.39 217.50,164.04 217.75,163.68 218.00,163.32 218.25,163.12 218.50,162.92 218.75,162.70 219.00,162.47 219.25,162.22 219.50,161.97 219.75,161.69 220.00,161.41 220.25,161.10 220.50,160.78 220.75,160.44 221.00,160.09 221.25,159.71 221.50,159.32 221.75,158.74 222.00,158.14 222.25,157.51 222.50,156.86 222.75,156.18 223.00,155.48 223.25,154.74 223.50,153.97 223.75,153.17 224.00,152.33 224.25,151.41 224.50,150.45 224.75,149.44 225.00,148.37 225.25,147.26 225.50,146.08 225.75,144.83 226.00,143.51 226.25,141.96 226.50,140.22 226.75,138.38 227.00,136.42 227.25,134.34 227.50,132.10 227.75,129.71 228.00,127.12 228.25,124.33 228.50,121.29 228.75,118.25 229.00,114.91 229.25,111.24 229.50,107.22 229.75,102.86 230.00,98.21 230.25,93.41 230.50,88.74 230.75,84.62 231.00,81.67 231.25,80.43 231.50,81.13 231.75,83.51 232.00,86.97 232.25,90.86 232.50,94.69 232.75,98.15 233.00,101.09 233.25,103.45 233.50,105.26 233.75,106.54 234.00,107.34 234.25,107.72 234.50,107.73 234.75,107.41 235.00,106.79 235.25,105.92 235.50,104.81 235.75,103.48 236.00,101.97 236.25,100.26 236.50,98.39 236.75,96.34 237.00,94.13 237.25,91.76 237.50,89.23 237.75,86.53 238.00,83.67 238.25,80.63 238.50,77.43 238.75,74.05 239.00,70.49 239.25,66.77 239.50,62.88 239.75,58.86 240.00,54.72 240.25,50.55 240.50,46.42 240.75,42.48 241.00,38.91 241.25,35.94 241.50,33.82 241.75,32.76 242.00,32.88 242.25,34.18 242.50,36.50 242.75,39.62 243.00,43.29 243.25,47.30 243.50,51.46 243.75,55.66 244.00,59.81 244.25,63.86 244.50,67.77 244.75,71.52 245.00,75.12 245.25,78.56 245.50,81.84 245.75,84.98 246.00,87.97 246.25,90.82 246.50,93.55 246.75,96.16 247.00,98.65 247.25,101.03 247.50,103.31 247.75,105.50 248.00,107.60 248.25,109.60 248.50,111.53 248.75,113.38 249.00,115.15 249.25,116.86 249.50,118.49 249.75,120.06 250.00,121.56 250.25,123.00 250.50,124.38 250.75,125.70 251.00,126.96 251.25,128.16 251.50,129.30 251.75,130.38 252.00,131.40 252.25,132.35 252.50,133.23 252.75,134.05 253.00,134.78 253.25,135.43 253.50,135.99 253.75,136.44 254.00,136.78 254.25,136.99 254.50,137.04 254.75,136.91 255.00,136.57 255.25,135.99 255.50,135.12 255.75,133.91 256.00,132.31 256.25,130.27 256.50,127.74 256.75,124.71 257.00,121.26 257.25,117.58 257.50,114.04 257.75,111.23 258.00,109.81 258.25,110.03 258.50,112.03 258.75,115.33 259.00,119.29 259.25,123.40 259.50,127.36 259.75,130.99 260.00,134.24 260.25,137.13 260.50,139.68 260.75,141.92 261.00,143.89 261.25,145.63 261.50,147.34 261.75,149.13 262.00,150.77 262.25,152.29 262.50,153.71 262.75,155.03 263.00,156.27 263.25,157.43 263.50,158.54 263.75,159.40 264.00,160.22 264.25,160.99 264.50,161.72 264.75,162.42 265.00,163.08 265.25,163.72 265.50,164.33 265.75,164.91 266.00,165.48 266.25,165.97 266.50,166.45 266.75,166.91 267.00,167.35 267.25,167.77 267.50,168.19 267.75,168.59 268.00,168.97 268.25,169.35 268.50,169.72 268.75,170.07 269.00,170.41 269.25,170.75 269.50,171.07 269.75,171.39 270.00,171.70 270.25,172.00 270.50,172.30 270.75,172.59 271.00,172.87 271.25,173.14 271.50,173.41 271.75,173.67 272.00,173.93 272.25,174.18 272.50,174.42 272.75,174.66 273.00,174.90 273.25,175.13 273.50,175.35 273.75,175.57 274.00,175.79 274.25,176.00 274.50,176.21 274.75,176.41 275.00,176.61 275.25,176.81 275.50,177.00 275.75,177.19 276.00,177.38 276.25,177.56 276.50,177.74 276.75,177.91 277.00,178.08 277.25,178.25 277.50,178.42 277.75,178.58 278.00,178.74 278.25,178.90 278.50,179.06 278.75,179.21 279.00,179.36 279.25,179.51 279.50,179.65 279.75,179.80 280.00,179.94 280.25,180.08 280.50,180.21 280.75,180.35 281.00,180.48 281.25,180.61 281.50,180.74 281.75,180.86 282.00,180.99 282.25,181.11 282.50,181.23 282.75,181.35 283.00,181.46 283.25,181.58 283.50,181.69 283.75,181.80 284.00,181.91 284.25,182.02 284.50,182.13 284.75,182.23 285.00,182.34 285.25,182.44 285.50,182.54 285.75,182.64 286.00,182.74 286.25,182.83 286.50,182.93 286.75,183.02 287.00,183.11 287.25,183.21 287.50,183.30 287.75,183.38 288.00,183.47 288.25,183.56 288.50,183.64 288.75,183.73 289.00,183.81 289.25,183.89 289.50,183.97 289.75,184.05 290.00,184.13 290.25,184.21 290.50,184.28 290.75,184.36 291.00,184.44 291.25,184.51 291.50,184.58 291.75,184.65 292.00,184.72 292.25,184.79 292.50,184.86 292.75,184.93 293.00,185.00 293.25,185.07 293.50,185.13 293.75,185.20 294.00,185.26 294.25,185.32 294.50,185.39 294.75,185.45 295.00,185.51 295.25,185.57 295.50,185.63 295.75,185.69 296.00,185.75 296.25,185.80 296.50,185.86 296.75,185.92 297.00,185.97 297.25,186.03 297.50,186.08 297.75,186.14 298.00,186.19 298.25,186.24 298.50,186.29 298.75,186.35 299.00,186.40 299.25,186.45 299.50,186.50 299.75,186.54 300.00,186.59 300.25,186.64 300.50,186.69 300.75,186.74 301.00,186.78 301.25,186.83 301.50,186.87 301.75,186.92 302.00,186.96 302.25,187.01 302.50,187.05 302.75,187.09 303.00,187.14 303.25,187.18 303.50,187.22 303.75,187.26 304.00,187.30 304.25,187.34 304.50,187.38 304.75,187.42 305.00,187.46 305.25,187.50 305.50,187.54 305.75,187.57 306.00,187.61 306.25,187.65 306.50,187.69 306.75,187.72 307.00,187.76 307.25,187.79 307.50,187.83 307.75,187.86 308.00,187.90 308.25,187.93 308.50,187.97 308.75,188.00 309.00,188.03 309.25,188.07 309.50,188.10 309.75,188.13 310.00,188.16 310.25,188.19 310.50,188.22 310.75,188.26 311.00,188.29 311.25,188.32 311.50,188.35 311.75,188.38 312.00,188.41 312.25,188.44 312.50,188.46 312.75,188.49 313.00,188.52 313.25,188.55 313.50,188.58 313.75,188.61 314.00,188.63 314.25,188.66 314.50,188.69 314.75,188.71 315.00,188.74 315.25,188.77 315.50,188.79 315.75,188.82 316.00,188.84 316.25,188.87 316.50,188.89 316.75,188.92 317.00,188.94 317.25,188.97 317.50,188.99 317.75,189.01 318.00,189.04 318.25,189.06 318.50,189.08 318.75,189.11 319.00,189.13 319.25,189.15 319.50,189.17 319.75,189.20 320.00,189.22 320.25,189.24 320.50,189.26 320.75,189.28 321.00,189.30 321.25,189.33 321.50,189.35 321.75,189.37 322.00,189.39 322.25,189.41 322.50,189.43 322.75,189.45 323.00,189.47 323.25,189.49 323.50,189.51 323.75,189.53 324.00,189.55 324.25,189.56 324.50,189.58 324.75,189.60 325.00,189.62 325.25,189.64 325.50,189.66 325.75,189.68 326.00,189.69 326.25,189.71 326.50,189.73 326.75,189.75 327.00,189.76 327.25,189.78 327.50,189.80 327.75,189.81 328.00,189.83 328.25,189.85 328.50,189.86 328.75,189.88 329.00,189.90 329.25,189.91 329.50,189.93 329.75,189.94 330.00,189.96 330.25,189.98 330.50,189.99 330.75,190.01 331.00,190.02 331.25,190.04 331.50,190.05 331.75,190.07 332.00,190.08 332.25,190.10 332.50,190.11 332.75,190.12 333.00,190.14 333.25,190.15 333.50,190.17 333.75,190.18 334.00,190.20 334.25,190.21 334.50,190.22 334.75,190.24 335.00,190.25 335.25,190.26 335.50,190.28 335.75,190.29 336.00,190.30 336.25,190.31 336.50,190.33 336.75,190.34 337.00,190.35 337.25,190.37 337.50,190.38 337.75,190.39 338.00,190.40 338.25,190.41 338.50,190.43 338.75,190.44 339.00,190.45 339.25,190.46 339.50,190.47 339.75,190.49 340.00,190.50 340.25,190.51 340.50,190.52 340.75,190.53 341.00,190.54 341.25,190.55 341.50,190.56 341.75,190.57 342.00,190.59 342.25,190.60 342.50,190.61 342.75,190.62 343.00,190.63 343.25,190.64 343.50,190.65" fill="none" stroke="#e0445a" stroke-width="1" opacity="0.8"/>
<!-- frame -->
<rect x="52.6" y="1.6" width="293.6" height="206.4" fill="none" stroke="#444" stroke-width="1.2"/>
<!-- ticks -->
<g stroke="#444" stroke-width="1.1">
<line x1="52.70" y1="208" x2="52.70" y2="212.3"/>
<line x1="126.00" y1="208" x2="126.00" y2="212.3"/>
<line x1="199.30" y1="208" x2="199.30" y2="212.3"/>
<line x1="272.60" y1="208" x2="272.60" y2="212.3"/>
<line x1="345.90" y1="208" x2="345.90" y2="212.3"/>
<line x1="89.35" y1="208" x2="89.35" y2="210.3"/>
<line x1="162.65" y1="208" x2="162.65" y2="210.3"/>
<line x1="235.95" y1="208" x2="235.95" y2="210.3"/>
<line x1="309.25" y1="208" x2="309.25" y2="210.3"/>
<line x1="48" y1="187.50" x2="52.6" y2="187.50"/>
<line x1="48" y1="118.80" x2="52.6" y2="118.80"/>
<line x1="48" y1="50.10" x2="52.6" y2="50.10"/>
<line x1="50.2" y1="208.18" x2="52.6" y2="208.18"/>
<line x1="50.2" y1="202.74" x2="52.6" y2="202.74"/>
<line x1="50.2" y1="198.14" x2="52.6" y2="198.14"/>
<line x1="50.2" y1="194.16" x2="52.6" y2="194.16"/>
<line x1="50.2" y1="190.64" x2="52.6" y2="190.64"/>
<line x1="50.2" y1="166.82" x2="52.6" y2="166.82"/>
<line x1="50.2" y1="154.72" x2="52.6" y2="154.72"/>
<line x1="50.2" y1="146.14" x2="52.6" y2="146.14"/>
<line x1="50.2" y1="139.48" x2="52.6" y2="139.48"/>
<line x1="50.2" y1="134.04" x2="52.6" y2="134.04"/>
<line x1="50.2" y1="129.44" x2="52.6" y2="129.44"/>
<line x1="50.2" y1="125.46" x2="52.6" y2="125.46"/>
<line x1="50.2" y1="121.94" x2="52.6" y2="121.94"/>
<line x1="50.2" y1="98.12" x2="52.6" y2="98.12"/>
<line x1="50.2" y1="86.02" x2="52.6" y2="86.02"/>
<line x1="50.2" y1="77.44" x2="52.6" y2="77.44"/>
<line x1="50.2" y1="70.78" x2="52.6" y2="70.78"/>
<line x1="50.2" y1="65.34" x2="52.6" y2="65.34"/>
<line x1="50.2" y1="60.74" x2="52.6" y2="60.74"/>
<line x1="50.2" y1="56.76" x2="52.6" y2="56.76"/>
<line x1="50.2" y1="53.24" x2="52.6" y2="53.24"/>
<line x1="50.2" y1="29.42" x2="52.6" y2="29.42"/>
<line x1="50.2" y1="17.32" x2="52.6" y2="17.32"/>
<line x1="50.2" y1="8.74" x2="52.6" y2="8.74"/>
<line x1="50.2" y1="2.08" x2="52.6" y2="2.08"/>
</g>
<!-- tick labels -->
<g fill="#222" font-size="11.2">
<text id="ty1" transform="translate(44.6,190.4) scale(1.04,1)" text-anchor="end">1</text>
<text id="ty10" transform="translate(44.9,121.8) scale(1.04,1)" text-anchor="end">10</text>
<text id="ty100" transform="translate(45,52.8) scale(1.06,1)" text-anchor="end">100</text>
<text id="tx0" transform="translate(52.9,223.2) scale(1.04,1)" text-anchor="middle">0</text>
<text id="tx1" transform="translate(126,223.2) scale(1.04,1)" text-anchor="middle">1</text>
<text id="tx2" transform="translate(199.3,223.2) scale(1.04,1)" text-anchor="middle">2</text>
<text id="tx3" transform="translate(272.7,223.2) scale(1.04,1)" text-anchor="middle">3</text>
<text id="tx4" transform="translate(346,223.2) scale(1.04,1)" text-anchor="middle">4</text>
</g>
<text id="xlab" transform="translate(199.4,240.8) scale(1.068,1)" font-size="11.5" fill="#222" text-anchor="middle">Frequency detuning at 1164 nm (GHz)</text>
<text id="ylab" transform="translate(9.8,160.6) rotate(-90) scale(1,1.08)" font-size="10.8" fill="#222">Fluorescence signal (a.u.)</text>
<!-- top-left label -->
<text id="tl" transform="translate(55.7,9.0) scale(0.965,1)" font-size="7.8" font-weight="bold" fill="#1a1abc">484 nm: -260 MHz detuned</text>
<!-- legend -->
<rect id="legbox" x="238.5" y="5" width="103" height="19.8" fill="#fff" stroke="#888" stroke-width="0.8"/>
<g fill="#222">
<text id="l1" transform="translate(239.8,13.7) scale(1.25,1)" font-size="7.5">229</text>
<text id="l2" transform="translate(255.2,19.7) scale(1.12,1)" font-size="11.2">Th</text>
<text id="l3" transform="translate(270.3,13.7) scale(1.25,1)" font-size="7.5">2+</text>
<text id="l4" transform="translate(284.6,19.7) scale(1.12,1)" font-size="11.2">+</text>
<text id="l5" transform="translate(291.5,13.7) scale(1.25,1)" font-size="7.5">229m</text>
<text id="l6" transform="translate(314.7,19.7) scale(1.12,1)" font-size="11.2">Th</text>
<text id="l7" transform="translate(328.8,13.7) scale(1.25,1)" font-size="7.5">2+</text>
</g>
<!-- annotations -->
<g font-size="11.1" fill="#222">
<text id="a1" transform="translate(89.8,123.9) rotate(-90) scale(1,1.1)">F<tspan dy="-4.6" font-size="7.5">m</tspan><tspan dy="4.6">=3/2</tspan><tspan dx="-1.25" font-size="12.5">→</tspan><tspan dx="-1.25">1/2</tspan><tspan dx="-1.25" font-size="12.5">→</tspan><tspan dx="-1.25">3/2</tspan></text>
<text id="a2" transform="translate(106.0,128) rotate(-90) scale(1,1.1)">F<tspan dy="-4.6" font-size="7.5">m</tspan><tspan dy="4.6">=1/2</tspan><tspan dx="-1.25" font-size="12.5">→</tspan><tspan dx="-1.25">1/2</tspan><tspan dx="-1.25" font-size="12.5">→</tspan><tspan dx="-1.25">3/2</tspan></text>
<text id="a3" transform="translate(186.2,128.4) rotate(-90) scale(1,1.1)">F<tspan dy="-4.6" font-size="7.5">m</tspan><tspan dy="4.6">=5/2</tspan><tspan dx="-1.25" font-size="12.5">→</tspan><tspan dx="-1.25">5/2</tspan><tspan dx="-1.25" font-size="12.5">→</tspan><tspan dx="-1.25">3/2</tspan></text>
<text id="a4" transform="translate(213.6,146.3) rotate(-90) scale(1,1.1)">F<tspan dy="-4.6" font-size="7.5">m</tspan><tspan dy="4.6">=5/2</tspan><tspan dx="-1.25" font-size="12.5">→</tspan><tspan dx="-1.25">3/2</tspan><tspan dx="-1.25" font-size="12.5">→</tspan><tspan dx="-1.25">3/2</tspan></text>
</g>
<g stroke="#222" stroke-width="0.9" fill="#222">
<line x1="84.3" y1="130.6" x2="84.3" y2="134.8"/><path d="M82.6,134.0 L86.0,134.0 L84.3,139.8 Z" stroke="none"/>
<line x1="98.4" y1="134" x2="98.4" y2="137.6"/><path d="M96.7,136.79999999999998 L100.10000000000001,136.79999999999998 L98.4,142.6 Z" stroke="none"/>
<line x1="179.2" y1="131.5" x2="179.2" y2="136.2"/><path d="M177.5,135.39999999999998 L180.89999999999998,135.39999999999998 L179.2,141.2 Z" stroke="none"/>
<line x1="206.5" y1="148" x2="206.5" y2="151.6"/><path d="M204.8,150.79999999999998 L208.2,150.79999999999998 L206.5,156.6 Z" stroke="none"/>
</g>
</svg>
</body></html>
